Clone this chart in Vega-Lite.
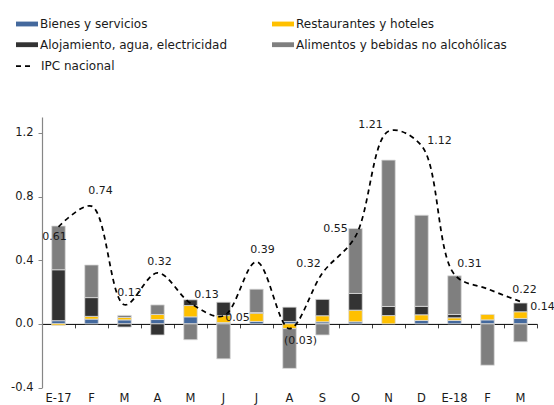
{
  "$schema": "https://vega.github.io/schema/vega-lite/v6.json",
  "autosize": {"type": "none"},
  "width": 495,
  "height": 270.5,
  "padding": {"left": 42, "top": 117, "right": 17, "bottom": 17.5},
  "config": {
    "view": {"stroke": null},
    "font": "DejaVu Sans",
    "axis": {"labelFont": "DejaVu Sans", "labelFontSize": 11.5, "labelColor": "#1a1a1a", "grid": false, "title": null},
    "legend": {"labelFont": "DejaVu Sans", "labelFontSize": 12, "labelColor": "#1a1a1a", "padding": 0, "labelLimit": 400}
  },
  "datasets": {
    "bars": [
      {"m": "E-17", "c": "Bienes y servicios", "v": 0.02},
      {"m": "E-17", "c": "Restaurantes y hoteles", "v": -0.01},
      {"m": "E-17", "c": "Alojamiento, agua, electricidad", "v": 0.32},
      {"m": "E-17", "c": "Alimentos y bebidas no alcohólicas", "v": 0.275},
      {"m": "F17", "c": "Bienes y servicios", "v": 0.03},
      {"m": "F17", "c": "Restaurantes y hoteles", "v": 0.017},
      {"m": "F17", "c": "Alojamiento, agua, electricidad", "v": 0.118},
      {"m": "F17", "c": "Alimentos y bebidas no alcohólicas", "v": 0.205},
      {"m": "M17", "c": "Bienes y servicios", "v": 0.025},
      {"m": "M17", "c": "Restaurantes y hoteles", "v": 0.015},
      {"m": "M17", "c": "Alojamiento, agua, electricidad", "v": -0.02},
      {"m": "M17", "c": "Alimentos y bebidas no alcohólicas", "v": 0.013},
      {"m": "A17", "c": "Bienes y servicios", "v": 0.027},
      {"m": "A17", "c": "Restaurantes y hoteles", "v": 0.032},
      {"m": "A17", "c": "Alojamiento, agua, electricidad", "v": -0.07},
      {"m": "A17", "c": "Alimentos y bebidas no alcohólicas", "v": 0.06},
      {"m": "M17y", "c": "Bienes y servicios", "v": 0.044},
      {"m": "M17y", "c": "Restaurantes y hoteles", "v": 0.071},
      {"m": "M17y", "c": "Alojamiento, agua, electricidad", "v": 0.036},
      {"m": "M17y", "c": "Alimentos y bebidas no alcohólicas", "v": -0.1},
      {"m": "J17n", "c": "Bienes y servicios", "v": 0.008},
      {"m": "J17n", "c": "Restaurantes y hoteles", "v": 0.044},
      {"m": "J17n", "c": "Alojamiento, agua, electricidad", "v": 0.084},
      {"m": "J17n", "c": "Alimentos y bebidas no alcohólicas", "v": -0.22},
      {"m": "J17l", "c": "Bienes y servicios", "v": 0.015},
      {"m": "J17l", "c": "Restaurantes y hoteles", "v": 0.052},
      {"m": "J17l", "c": "Alojamiento, agua, electricidad", "v": 0.004},
      {"m": "J17l", "c": "Alimentos y bebidas no alcohólicas", "v": 0.147},
      {"m": "A17g", "c": "Bienes y servicios", "v": 0.015},
      {"m": "A17g", "c": "Restaurantes y hoteles", "v": -0.03},
      {"m": "A17g", "c": "Alojamiento, agua, electricidad", "v": 0.09},
      {"m": "A17g", "c": "Alimentos y bebidas no alcohólicas", "v": -0.25},
      {"m": "S17", "c": "Bienes y servicios", "v": 0.013},
      {"m": "S17", "c": "Restaurantes y hoteles", "v": 0.038},
      {"m": "S17", "c": "Alojamiento, agua, electricidad", "v": 0.103},
      {"m": "S17", "c": "Alimentos y bebidas no alcohólicas", "v": -0.07},
      {"m": "O17", "c": "Bienes y servicios", "v": 0.013},
      {"m": "O17", "c": "Restaurantes y hoteles", "v": 0.073},
      {"m": "O17", "c": "Alojamiento, agua, electricidad", "v": 0.105},
      {"m": "O17", "c": "Alimentos y bebidas no alcohólicas", "v": 0.408},
      {"m": "N17", "c": "Restaurantes y hoteles", "v": 0.052},
      {"m": "N17", "c": "Alojamiento, agua, electricidad", "v": 0.057},
      {"m": "N17", "c": "Alimentos y bebidas no alcohólicas", "v": 0.92},
      {"m": "D17", "c": "Bienes y servicios", "v": 0.021},
      {"m": "D17", "c": "Restaurantes y hoteles", "v": 0.036},
      {"m": "D17", "c": "Alojamiento, agua, electricidad", "v": 0.053},
      {"m": "D17", "c": "Alimentos y bebidas no alcohólicas", "v": 0.573},
      {"m": "E-18", "c": "Bienes y servicios", "v": 0.021},
      {"m": "E-18", "c": "Restaurantes y hoteles", "v": 0.017},
      {"m": "E-18", "c": "Alojamiento, agua, electricidad", "v": 0.021},
      {"m": "E-18", "c": "Alimentos y bebidas no alcohólicas", "v": 0.243},
      {"m": "F18", "c": "Bienes y servicios", "v": 0.025},
      {"m": "F18", "c": "Restaurantes y hoteles", "v": 0.034},
      {"m": "F18", "c": "Alimentos y bebidas no alcohólicas", "v": -0.26},
      {"m": "M18", "c": "Bienes y servicios", "v": 0.034},
      {"m": "M18", "c": "Restaurantes y hoteles", "v": 0.042},
      {"m": "M18", "c": "Alojamiento, agua, electricidad", "v": 0.055},
      {"m": "M18", "c": "Alimentos y bebidas no alcohólicas", "v": -0.113}
    ],
    "ipc": [
      {"m": "E-17", "ipc": 0.61, "lbl": "0.61"},
      {"m": "F17", "ipc": 0.74, "lbl": "0.74"},
      {"m": "M17", "ipc": 0.12, "lbl": "0.12"},
      {"m": "A17", "ipc": 0.32, "lbl": "0.32"},
      {"m": "M17y", "ipc": 0.13, "lbl": "0.13"},
      {"m": "J17n", "ipc": 0.05, "lbl": "0.05"},
      {"m": "J17l", "ipc": 0.39, "lbl": "0.39"},
      {"m": "A17g", "ipc": -0.03, "lbl": "(0.03)"},
      {"m": "S17", "ipc": 0.32, "lbl": "0.32"},
      {"m": "O17", "ipc": 0.55, "lbl": "0.55"},
      {"m": "N17", "ipc": 1.21, "lbl": "1.21"},
      {"m": "D17", "ipc": 1.12, "lbl": "1.12"},
      {"m": "E-18", "ipc": 0.31, "lbl": "0.31"},
      {"m": "F18", "ipc": 0.22, "lbl": "0.22"},
      {"m": "M18", "ipc": 0.14, "lbl": "0.14"}
    ]
  },
  "resolve": {"axis": {"x": "independent", "y": "independent"}},
  "layer": [
    {
      "data": {"name": "bars"},
      "transform": [{"calculate": "indexof(['Bienes y servicios', 'Restaurantes y hoteles', 'Alojamiento, agua, electricidad', 'Alimentos y bebidas no alcohólicas'], datum.c)", "as": "stackIdx"}],
      "mark": {"type": "bar", "width": {"band": 0.41}, "stroke": "#dcdcdc", "strokeWidth": 0.8},
      "encoding": {
        "x": {
          "field": "m", "type": "nominal", "sort": null,
          "scale": {"paddingInner": 0, "paddingOuter": 0},
          "axis": {"orient": "bottom", "domain": false, "ticks": false, "tickSize": 0, "labelPadding": 5, "labelAngle": 0,
                   "labelExpr": "indexof(datum.value, '-') > 0 ? datum.value : substring(datum.value, 0, 1)"}
        },
        "y": {
          "field": "v", "type": "quantitative", "stack": "zero",
          "scale": {"domain": [-0.4, 1.3], "nice": false, "zero": false},
          "axis": {"values": [-0.4, 0, 0.4, 0.8, 1.2], "format": ".1f", "labelExpr": "replace(datum.label, '\u2212', '-')", "domainColor": "#868686", "tickColor": "#868686", "tickSize": 4, "labelPadding": 5, "domainWidth": 1.2}
        },
        "color": {
          "field": "c", "type": "nominal",
          "sort": ["Bienes y servicios", "Restaurantes y hoteles", "Alojamiento, agua, electricidad", "Alimentos y bebidas no alcohólicas"],
          "scale": {
            "domain": ["Bienes y servicios", "Restaurantes y hoteles", "Alojamiento, agua, electricidad", "Alimentos y bebidas no alcohólicas"],
            "range": ["#44699d", "#ffc000", "#333333", "#7f7f7f"]
          },
          "legend": {
            "title": null, "orient": "none", "direction": "horizontal", "legendX": -26, "legendY": -104, "columns": 2, "columnPadding": 44, "rowPadding": 3.7,
            "symbolType": "M-1,-0.22L1,-0.22L1,0.22L-1,0.22Z", "symbolSize": 484, "symbolStrokeWidth": 0, "labelOffset": 2
          }
        },
        "order": {"field": "stackIdx", "type": "quantitative", "sort": "ascending"}
      }
    },
    {
      "data": {"name": "ipc"},
      "mark": {"type": "line", "interpolate": "catmull-rom", "color": "black", "strokeWidth": 1.75},
      "encoding": {
        "x": {
          "field": "m", "type": "nominal", "sort": null,
          "axis": {"orient": "bottom", "labels": false, "offset": -63.6, "tickBand": "extent", "domainColor": "black", "tickColor": "#404040", "tickSize": 4, "domainWidth": 1}
        },
        "y": {"field": "ipc", "type": "quantitative", "axis": null},
        "strokeDash": {
          "datum": "IPC nacional", "type": "nominal",
          "scale": {"range": [[5, 4]]},
          "legend": {"title": null, "orient": "none", "legendX": -27, "legendY": -61, "symbolType": "stroke", "symbolSize": 324, "symbolStrokeColor": "black", "symbolStrokeWidth": 1.75, "symbolDash": [6, 5], "labelOffset": 6}
        }
      }
    },
    {"data": {"name": "ipc"}, "transform": [{"filter": "datum.m == 'E-17'"}], "mark": {"type": "text", "fontSize": 11, "color": "#1a1a1a", "dx": -4, "dy": 10}, "encoding": {"x": {"field": "m", "type": "nominal", "sort": null, "axis": null}, "y": {"field": "ipc", "type": "quantitative", "axis": null}, "text": {"field": "lbl"}}},
    {"data": {"name": "ipc"}, "transform": [{"filter": "datum.m == 'F17'"}], "mark": {"type": "text", "fontSize": 11, "color": "#1a1a1a", "dx": 9, "dy": -15}, "encoding": {"x": {"field": "m", "type": "nominal", "sort": null, "axis": null}, "y": {"field": "ipc", "type": "quantitative", "axis": null}, "text": {"field": "lbl"}}},
    {"data": {"name": "ipc"}, "transform": [{"filter": "datum.m == 'M17'"}], "mark": {"type": "text", "fontSize": 11, "color": "#1a1a1a", "dx": 5, "dy": -12}, "encoding": {"x": {"field": "m", "type": "nominal", "sort": null, "axis": null}, "y": {"field": "ipc", "type": "quantitative", "axis": null}, "text": {"field": "lbl"}}},
    {"data": {"name": "ipc"}, "transform": [{"filter": "datum.m == 'A17'"}], "mark": {"type": "text", "fontSize": 11, "color": "#1a1a1a", "dx": 2, "dy": -11}, "encoding": {"x": {"field": "m", "type": "nominal", "sort": null, "axis": null}, "y": {"field": "ipc", "type": "quantitative", "axis": null}, "text": {"field": "lbl"}}},
    {"data": {"name": "ipc"}, "transform": [{"filter": "datum.m == 'M17y'"}], "mark": {"type": "text", "fontSize": 11, "color": "#1a1a1a", "dx": 16, "dy": -8}, "encoding": {"x": {"field": "m", "type": "nominal", "sort": null, "axis": null}, "y": {"field": "ipc", "type": "quantitative", "axis": null}, "text": {"field": "lbl"}}},
    {"data": {"name": "ipc"}, "transform": [{"filter": "datum.m == 'J17n'"}], "mark": {"type": "text", "fontSize": 11, "color": "#1a1a1a", "dx": 14, "dy": 2}, "encoding": {"x": {"field": "m", "type": "nominal", "sort": null, "axis": null}, "y": {"field": "ipc", "type": "quantitative", "axis": null}, "text": {"field": "lbl"}}},
    {"data": {"name": "ipc"}, "transform": [{"filter": "datum.m == 'J17l'"}], "mark": {"type": "text", "fontSize": 11, "color": "#1a1a1a", "dx": 6, "dy": -12}, "encoding": {"x": {"field": "m", "type": "nominal", "sort": null, "axis": null}, "y": {"field": "ipc", "type": "quantitative", "axis": null}, "text": {"field": "lbl"}}},
    {"data": {"name": "ipc"}, "transform": [{"filter": "datum.m == 'A17g'"}], "mark": {"type": "text", "fontSize": 11, "color": "#1a1a1a", "dx": 11, "dy": 12}, "encoding": {"x": {"field": "m", "type": "nominal", "sort": null, "axis": null}, "y": {"field": "ipc", "type": "quantitative", "axis": null}, "text": {"field": "lbl"}}},
    {"data": {"name": "ipc"}, "transform": [{"filter": "datum.m == 'S17'"}], "mark": {"type": "text", "fontSize": 11, "color": "#1a1a1a", "dx": -14, "dy": -9}, "encoding": {"x": {"field": "m", "type": "nominal", "sort": null, "axis": null}, "y": {"field": "ipc", "type": "quantitative", "axis": null}, "text": {"field": "lbl"}}},
    {"data": {"name": "ipc"}, "transform": [{"filter": "datum.m == 'O17'"}], "mark": {"type": "text", "fontSize": 11, "color": "#1a1a1a", "dx": -20, "dy": -7}, "encoding": {"x": {"field": "m", "type": "nominal", "sort": null, "axis": null}, "y": {"field": "ipc", "type": "quantitative", "axis": null}, "text": {"field": "lbl"}}},
    {"data": {"name": "ipc"}, "transform": [{"filter": "datum.m == 'N17'"}], "mark": {"type": "text", "fontSize": 11, "color": "#1a1a1a", "dx": -18, "dy": -6}, "encoding": {"x": {"field": "m", "type": "nominal", "sort": null, "axis": null}, "y": {"field": "ipc", "type": "quantitative", "axis": null}, "text": {"field": "lbl"}}},
    {"data": {"name": "ipc"}, "transform": [{"filter": "datum.m == 'D17'"}], "mark": {"type": "text", "fontSize": 11, "color": "#1a1a1a", "dx": 18, "dy": -5}, "encoding": {"x": {"field": "m", "type": "nominal", "sort": null, "axis": null}, "y": {"field": "ipc", "type": "quantitative", "axis": null}, "text": {"field": "lbl"}}},
    {"data": {"name": "ipc"}, "transform": [{"filter": "datum.m == 'E-18'"}], "mark": {"type": "text", "fontSize": 11, "color": "#1a1a1a", "dx": 15, "dy": -11}, "encoding": {"x": {"field": "m", "type": "nominal", "sort": null, "axis": null}, "y": {"field": "ipc", "type": "quantitative", "axis": null}, "text": {"field": "lbl"}}},
    {"data": {"name": "ipc"}, "transform": [{"filter": "datum.m == 'F18'"}], "mark": {"type": "text", "fontSize": 11, "color": "#1a1a1a", "dx": 37, "dy": 1}, "encoding": {"x": {"field": "m", "type": "nominal", "sort": null, "axis": null}, "y": {"field": "ipc", "type": "quantitative", "axis": null}, "text": {"field": "lbl"}}},
    {"data": {"name": "ipc"}, "transform": [{"filter": "datum.m == 'M18'"}], "mark": {"type": "text", "fontSize": 11, "color": "#1a1a1a", "dx": 22, "dy": 5}, "encoding": {"x": {"field": "m", "type": "nominal", "sort": null, "axis": null}, "y": {"field": "ipc", "type": "quantitative", "axis": null}, "text": {"field": "lbl"}}}
  ]
}
